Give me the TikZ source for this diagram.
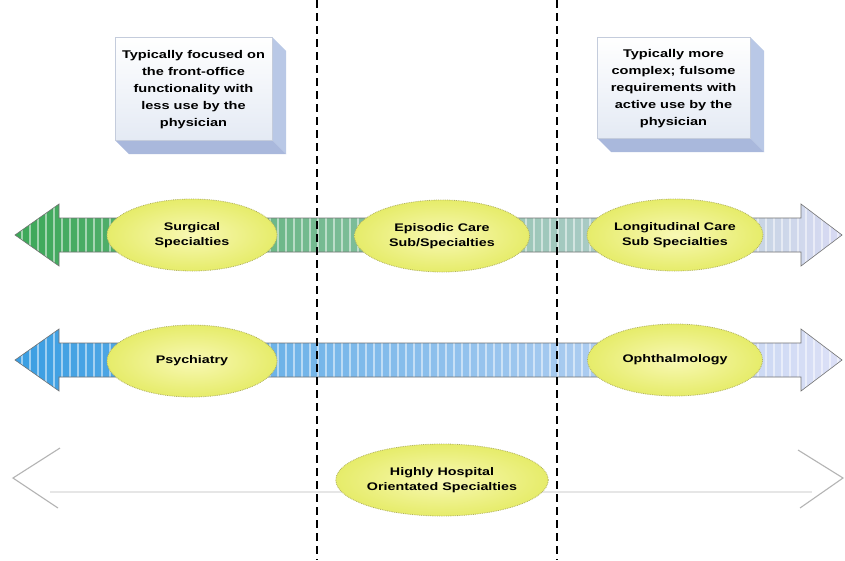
\documentclass[tikz,border=0pt]{standalone}
\usepackage{fontspec}
\setmainfont{Liberation Sans}[FakeStretch=1.3]
\usetikzlibrary{shapes.geometric}
\definecolor{gA}{HTML}{3CA858}
\definecolor{gB}{HTML}{6CC4A4}
\definecolor{gC}{HTML}{D8DAF4}
\definecolor{bA}{HTML}{3A9EE2}
\definecolor{bB}{HTML}{94CEF0}
\definecolor{bC}{HTML}{DDE0F6}
\definecolor{elIn}{HTML}{F8F8B4}
\definecolor{elOut}{HTML}{E6EC6A}
\definecolor{elLine}{HTML}{B0B060}
\definecolor{boxFace}{HTML}{E4EAF4}
\definecolor{boxSide}{HTML}{B9C8E6}
\definecolor{boxBot}{HTML}{A9B8DC}
\definecolor{boxLine}{HTML}{C4CCDC}
\definecolor{chev}{HTML}{B4B4B4}
\definecolor{faint}{HTML}{E6E6E6}
\begin{document}
\begin{tikzpicture}[x=1pt,y=-1pt,
  oval/.style={ellipse, inner color=elIn, outer color=elOut, draw=elLine,
    densely dotted, line width=0.8pt, minimum width=#1, minimum height=72pt,
    align=center, font=\bfseries\fontsize{11}{15}\selectfont, inner sep=0pt},
  oval/.default=170pt,
  boxtext/.style={align=center, font=\bfseries\fontsize{11.2}{17}\selectfont, inner sep=0pt},
  divider/.style={dash pattern=on 8pt off 5pt, line width=1.4pt, black},
  stripe/.style={white, opacity=0.5, line width=1.6pt},
  rim/.style={draw=black!55, line width=0.6pt}
]
\useasboundingbox[fill=white] (0,0) rectangle (845,560);

% ---- top boxes ----
\fill[boxSide] (272,37) -- (286,51) -- (286,154) -- (272,140) -- cycle;
\fill[boxBot] (115,140) -- (272,140) -- (286,154) -- (129,154) -- cycle;
\shade[top color=white, bottom color=boxFace, draw=boxLine] (115,37) rectangle (272,140);
\node[boxtext] (leftnote) at (193.5,90) {Typically focused on\\the front-office\\functionality with\\less use by the\\physician};

\fill[boxSide] (750,37) -- (764,51) -- (764,152) -- (750,138) -- cycle;
\fill[boxBot] (597,138) -- (750,138) -- (764,152) -- (611,152) -- cycle;
\shade[top color=white, bottom color=boxFace, draw=boxLine] (597,37) rectangle (750,138);
\node[boxtext] (rightnote) at (673.5,89) {Typically more\\complex; fulsome\\requirements with\\active use by the\\physician};

% ---- arrow row 1 ----
\def\arrowpath#1{(15,#1) -- (59,#1-31) -- (59,#1-17) -- (801,#1-17) -- (801,#1-31) -- (842,#1) -- (801,#1+31) -- (801,#1+17) -- (59,#1+17) -- (59,#1+31) -- cycle}
\shade[left color=gA, middle color=gB, right color=gC] \arrowpath{235};
\begin{scope}
  \clip \arrowpath{235};
  \foreach \s in {22,30,...,840} \draw[stripe] (\s,190) -- (\s,280);
\end{scope}
\draw[rim] \arrowpath{235};

% ---- arrow row 2 ----
\shade[left color=bA, middle color=bB, right color=bC] \arrowpath{360};
\begin{scope}
  \clip \arrowpath{360};
  \foreach \s in {22,30,...,840} \draw[stripe] (\s,320) -- (\s,400);
\end{scope}
\draw[rim] \arrowpath{360};

% ---- row 3 faint arrow ----
\coordinate (l3) at (50,492);
\coordinate (r3) at (812,492);
\draw[faint, line width=2.5pt] (l3) -- (r3);
\coordinate (lt) at (13,478);
\coordinate (rt) at (843,478);
\draw[chev, line width=1.1pt] (60,448) -- (lt) -- (58,508);
\draw[chev, line width=1.1pt] (798,450) -- (rt) -- (800,508);

% ---- dividers ----
\coordinate (d1t) at (317,0); \coordinate (d1b) at (317,560);
\coordinate (d2t) at (557,0); \coordinate (d2b) at (557,560);
\draw[divider] (d1t) -- (d1b);
\draw[divider] (d2t) -- (d2b);

% ---- ellipses ----
\node[oval=170pt] (surg) at (192,235) {Surgical\\Specialties};
\node[oval=175pt] (epis) at (442,236) {Episodic Care\\Sub/Specialties};
\node[oval=176pt] (long) at (675,235) {Longitudinal Care\\Sub Specialties};
\node[oval=170pt] (psych) at (192,361) {Psychiatry};
\node[oval=175pt] (oph) at (675,360) {Ophthalmology};
\node[oval=180pt] (hosp) at (442,480) {Highly Hospital\\Orientated Specialties};
\end{tikzpicture}
\end{document}
